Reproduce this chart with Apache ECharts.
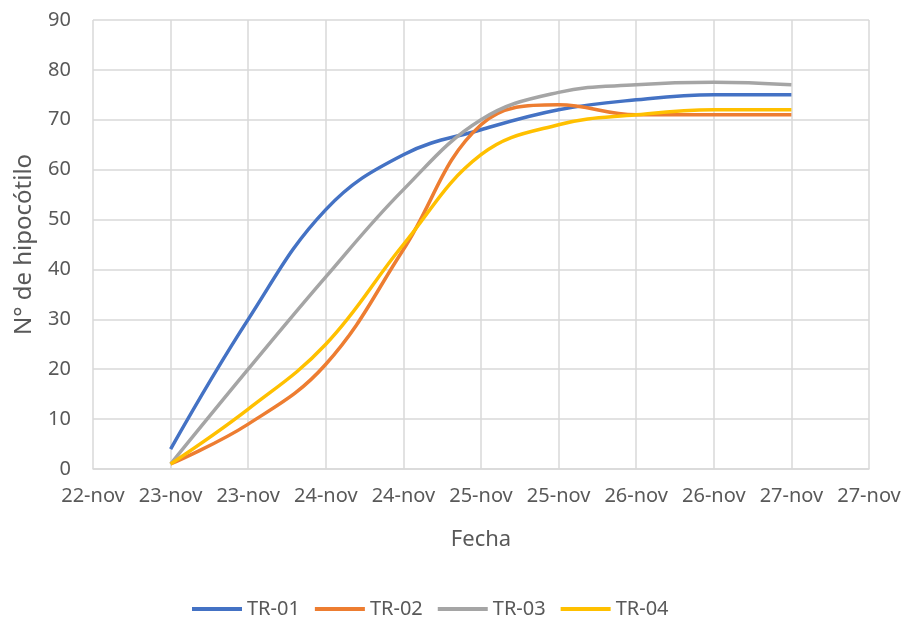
<!DOCTYPE html>
<html>
<head>
<meta charset="utf-8">
<script src="https://cdn.jsdelivr.net/npm/echarts@6/dist/echarts.min.js"></script>
<style>
  html, body { margin: 0; padding: 0; background: #fff; }
  #chart { width: 909px; height: 628px; }
</style>
</head>
<body>
<div id="chart"></div>
<script>
// Etiquetas del eje X (cada medio día)
const xLabels = ['22-nov', '23-nov', '23-nov', '24-nov', '24-nov', '25-nov', '25-nov', '26-nov', '26-nov', '27-nov', '27-nov'];
// Posiciones de las mediciones en el eje (índice de la etiqueta)
const xPos = [1, 2, 3, 4, 5, 6, 7, 8, 9];

const tr01 = [4, 30, 52, 63, 68, 72, 74, 75, 75];
const tr02 = [1, 9, 21, 44, 69, 73, 71, 71, 71];
const tr03 = [1, 20, 38.5, 56, 70, 75.5, 77, 77.5, 77];
const tr04 = [1, 12, 25, 45, 63, 69, 71, 72, 72];

const names = ['TR-01', 'TR-02', 'TR-03', 'TR-04'];
const colors = ['#4472c4', '#ed7d31', '#a5a5a5', '#ffc000'];

const chart = echarts.init(document.getElementById('chart'));
const font = 'Noto Sans, sans-serif';
const txt = '#595959';

function pairs(vals) {
  return vals.map((v, i) => [xPos[i], v]);
}

chart.setOption({
  animation: false,
  textStyle: { fontFamily: font },
  color: colors,
  grid: { left: 93, right: 40, top: 20, bottom: 159 },
  xAxis: {
    type: 'value',
    min: 0, max: 10, interval: 1,
    name: 'Fecha',
    nameLocation: 'middle',
    nameGap: 60,
    nameTextStyle: { color: txt, fontSize: 22, fontFamily: font },
    axisLine: { lineStyle: { color: '#d9d9d9', width: 1.5 } },
    axisTick: { show: false },
    splitLine: { show: true, lineStyle: { color: '#d9d9d9', width: 1.5 } },
    axisLabel: {
      color: txt, fontSize: 20, fontFamily: font, margin: 17,
      formatter: v => xLabels[Math.round(v)] || ''
    }
  },
  yAxis: {
    type: 'value',
    min: 0, max: 90, interval: 10,
    name: 'N° de hipocótilo',
    nameLocation: 'middle',
    nameGap: 57,
    nameTextStyle: { color: txt, fontSize: 24, fontFamily: font },
    axisLine: { show: false },
    axisTick: { show: false },
    splitLine: { lineStyle: { color: '#d9d9d9', width: 1.5 } },
    axisLabel: { color: txt, fontSize: 20, fontFamily: font, margin: 22 }
  },
  legend: {
    bottom: 4,
    left: 187,
    itemGap: 15,
    itemWidth: 50,
    itemHeight: 4,
    icon: 'rect',
    textStyle: { color: txt, fontSize: 20, fontFamily: font },
    data: names
  },
  series: [tr01, tr02, tr03, tr04].map((d, i) => ({
    name: names[i],
    type: 'line',
    smooth: 0.4,
    symbol: 'none',
    lineStyle: { width: 3.5, color: colors[i] },
    data: pairs(d)
  }))
});
</script>
</body>
</html>
